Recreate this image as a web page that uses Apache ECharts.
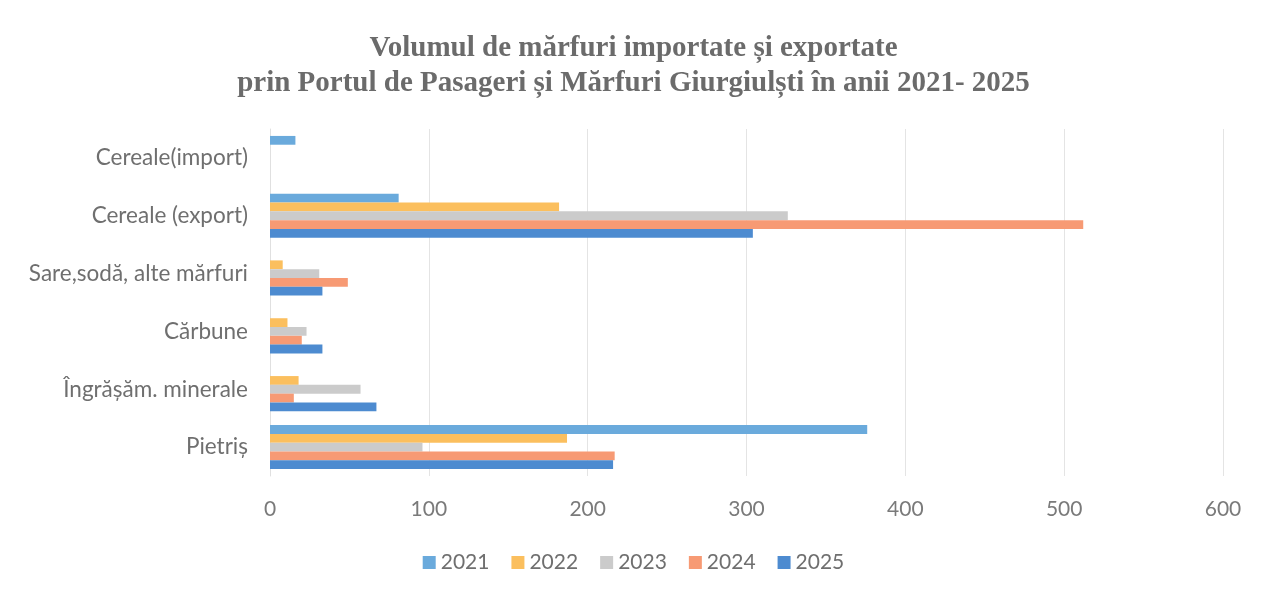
<!DOCTYPE html>
<html>
<head>
<meta charset="utf-8">
<script src="https://cdn.jsdelivr.net/npm/echarts@6/dist/echarts.min.js"></script>
<style>
  html, body { margin: 0; padding: 0; background: #fff; }
</style>
</head>
<body>
<div id="chart" style="width: 1267px; height: 593px"></div>
<script>
const categories = [
  "Cereale(import)",
  "Cereale (export)",
  "Sare,sodă, alte mărfuri",
  "Cărbune",
  "Îngrășăm. minerale",
  "Pietriș",
];
const years = ["2021", "2022", "2023", "2024", "2025"];
const v2021 = [16, 81, 0, 0, 0, 376];
const v2022 = [0, 182, 8, 11, 18, 187];
const v2023 = [0, 326, 31, 23, 57, 96];
const v2024 = [0, 512, 49, 20, 15, 217];
const v2025 = [0, 304, 33, 33, 67, 216];
const xTicks = [0, 100, 200, 300, 400, 500, 600];

const colors = ["#6aaadc", "#fbbf5e", "#cbcbcb", "#f79a74", "#4d8bd0"];
const values = [v2021, v2022, v2023, v2024, v2025];

const chart = echarts.init(document.getElementById("chart"));
chart.setOption({
  animation: false,
  title: {
    text: "Volumul de mărfuri importate și exportate\nprin Portul de Pasageri și Mărfuri Giurgiulști în anii 2021- 2025",
    left: "center",
    top: 26,
    textStyle: {
      fontFamily: "Liberation Serif",
      fontWeight: "bold",
      fontSize: 29,
      lineHeight: 35,
      color: "#6b6b6b",
    },
  },
  legend: {
    bottom: 15,
    left: "center",
    itemWidth: 13,
    itemHeight: 13,
    itemGap: 22,
    icon: "rect",
    textStyle: { fontFamily: "Lato", fontSize: 21, color: "#6f6f6f" },
    data: years,
  },
  grid: { left: 270, right: 44, top: 129, bottom: 117 },
  xAxis: {
    type: "value",
    min: xTicks[0],
    max: xTicks[xTicks.length - 1],
    interval: 100,
    axisLine: { show: false },
    axisTick: { show: false },
    axisLabel: { fontFamily: "Lato", fontSize: 21, color: "#7a7a7a", margin: 23 },
    splitLine: { lineStyle: { color: "#e4e4e4" } },
  },
  yAxis: {
    type: "category",
    inverse: true,
    data: categories,
    axisLine: { lineStyle: { color: "#e0e0e0" } },
    axisTick: { show: false },
    axisLabel: { fontFamily: "Lato", fontSize: 22.5, color: "#6f6f6f", margin: 22 },
  },
  series: years.map((y, i) => ({
    name: y,
    type: "bar",
    data: values[i],
    itemStyle: { color: colors[i] },
    barGap: "0%",
    barCategoryGap: "24%",
  })),
});
</script>
</body>
</html>
